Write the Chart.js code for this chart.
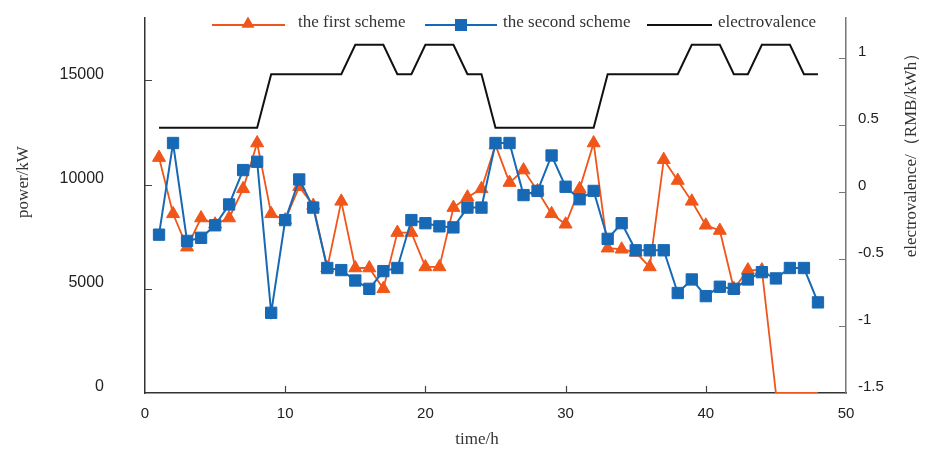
<!DOCTYPE html>
<html><head><meta charset="utf-8">
<script src="https://cdn.jsdelivr.net/npm/chart.js@4.4.0/dist/chart.umd.min.js"></script>
<style>html,body{margin:0;padding:0;background:#fff}canvas{display:block}</style>
</head><body>
<canvas id="c" width="937" height="450"></canvas>
<script>
const hours = [1,2,3,4,5,6,7,8,9,10,11,12,13,14,15,16,17,18,19,20,21,22,23,24,
               25,26,27,28,29,30,31,32,33,34,35,36,37,38,39,40,41,42,43,44,45,46,47,48];
const firstScheme = [11300,8600,7000,8400,8100,8400,9800,12000,8600,8300,9900,9000,
                     6000,9200,6000,6000,5000,7700,7700,6050,6050,8900,9400,9800,
                     11900,10100,10700,9700,8600,8100,9800,12000,6950,6900,6750,6050,
                     11200,10200,9200,8050,7800,5000,5900,5900,0,0,0,0];
const secondScheme = [7600,12000,7300,7450,8050,9050,10700,11100,3850,8300,10250,8900,
                      6000,5900,5400,5000,5850,6000,8300,8150,8000,7950,8900,8900,
                      12000,12000,9500,9700,11400,9900,9300,9700,7400,8150,6850,6850,
                      6850,4800,5450,4650,5100,5000,5450,5800,5500,6000,6000,4350];
const electrovalence = [0.48,0.48,0.48,0.48,0.48,0.48,0.48,0.48,
                        0.88,0.88,0.88,0.88,0.88,0.88,
                        1.1,1.1,1.1,0.88,0.88,1.1,1.1,1.1,0.88,0.88,
                        0.48,0.48,0.48,0.48,0.48,0.48,0.48,0.48,
                        0.88,0.88,0.88,0.88,0.88,0.88,
                        1.1,1.1,1.1,0.88,0.88,1.1,1.1,1.1,0.88,0.88];
const timeTicks = [0,10,20,30,40,50];
const powerTicks = [0,5000,10000,15000];
const priceTicks = [-1.5,-1,-0.5,0,0.5,1];
const seriesNames = ['the first scheme','the second scheme','electrovalence'];

const ORANGE = '#f0561a', BLUE = '#1769b5', BLACK = '#111111';
const SERIF = '"Liberation Serif","Times New Roman",serif';
const SANS = '"Liberation Sans",Arial,sans-serif';
const toXY = arr => hours.map((h, i) => ({x: h, y: arr[i]}));
const fixTicks = list => scale => { scale.ticks = list.map(v => ({value: v})); };
const fitTo = (w, h) => scale => {
  if (w !== null) scale.width = w;
  if (h !== null) scale.height = h;
  scale.paddingTop = 0; scale.paddingBottom = 0;
  scale.paddingLeft = 0; scale.paddingRight = 0;
};

function tri(ctx, x, y, r) {
  ctx.beginPath();
  ctx.moveTo(x, y - r);
  ctx.lineTo(x + 0.866 * r, y + 0.5 * r);
  ctx.lineTo(x - 0.866 * r, y + 0.5 * r);
  ctx.closePath(); ctx.fill();
}
function sq(ctx, x, y, r) {
  const s = Math.SQRT1_2 * r;
  ctx.fillRect(x - s, y - s, 2 * s, 2 * s);
}

const decor = {
  id: 'decor',
  afterDraw(chart) {
    const ctx = chart.ctx;
    const {x, y, y2} = chart.scales;
    ctx.save();
    ctx.lineWidth = 1.2;
    ctx.strokeStyle = '#444';
    ctx.beginPath();
    y.ticks.forEach(t => {
      if (t.value === 0) return;
      const p = Math.round(y.getPixelForValue(t.value)) + 0.5;
      ctx.moveTo(y.right, p); ctx.lineTo(y.right + 7, p);
    });
    x.ticks.forEach(t => {
      if (t.value === 0 || t.value === 50) return;
      const p = Math.round(x.getPixelForValue(t.value)) + 0.5;
      ctx.moveTo(p, x.top); ctx.lineTo(p, x.top - 7);
    });
    ctx.stroke();
    ctx.strokeStyle = '#777';
    ctx.beginPath();
    y2.ticks.forEach(t => {
      if (t.value === -1.5) return;
      const p = Math.round(y2.getPixelForValue(t.value)) + 0.5;
      ctx.moveTo(y2.left - 7, p); ctx.lineTo(y2.left, p);
    });
    ctx.stroke();

    const ly = 25;
    ctx.lineWidth = 1.8;
    ctx.strokeStyle = ORANGE; ctx.fillStyle = ORANGE;
    ctx.beginPath(); ctx.moveTo(212, ly); ctx.lineTo(285, ly); ctx.stroke();
    tri(ctx, 248, ly - 1, 7.5);
    ctx.strokeStyle = BLUE; ctx.fillStyle = BLUE;
    ctx.beginPath(); ctx.moveTo(425, ly); ctx.lineTo(497, ly); ctx.stroke();
    sq(ctx, 461, ly, 8.5);
    ctx.strokeStyle = BLACK; ctx.lineWidth = 2;
    ctx.beginPath(); ctx.moveTo(647, ly); ctx.lineTo(712, ly); ctx.stroke();
    ctx.fillStyle = '#333';
    ctx.font = '17px ' + SERIF;
    ctx.textBaseline = 'middle'; ctx.textAlign = 'left';
    ctx.fillText(seriesNames[0], 298, 23);
    ctx.fillText(seriesNames[1], 503, 23);
    ctx.fillText(seriesNames[2], 718, 23);

    ctx.textAlign = 'center';
    ctx.fillText('time/h', 477, 440);
    ctx.save(); ctx.translate(24, 182); ctx.rotate(-Math.PI / 2);
    ctx.fillText('power/kW', 0, 0); ctx.restore();
    ctx.save(); ctx.translate(912, 151); ctx.rotate(-Math.PI / 2);
    ctx.fillText('electrovalence/（RMB/kWh）', 0, 0); ctx.restore();
    ctx.restore();
  }
};

new Chart(document.getElementById('c').getContext('2d'), {
  type: 'line',
  data: {
    datasets: [
      {label: seriesNames[0], data: toXY(firstScheme), yAxisID: 'y', order: 2,
       borderColor: ORANGE, backgroundColor: ORANGE, borderWidth: 1.8,
       pointStyle: 'triangle', pointBackgroundColor: ORANGE, pointBorderColor: ORANGE,
       pointBorderWidth: 1, pointRadius: c => (c.raw && c.raw.y === 0) ? 0 : 7.5, tension: 0},
      {label: seriesNames[1], data: toXY(secondScheme), yAxisID: 'y', order: 1,
       borderColor: BLUE, backgroundColor: BLUE, borderWidth: 2,
       pointStyle: 'rect', pointBackgroundColor: BLUE, pointBorderColor: BLUE,
       pointBorderWidth: 1, pointRadius: 8, tension: 0},
      {label: seriesNames[2], data: toXY(electrovalence), yAxisID: 'y2', order: 3,
       borderColor: BLACK, borderWidth: 2, pointRadius: 0, tension: 0}
    ]
  },
  options: {
    responsive: false, animation: false,
    layout: {padding: {top: 18, left: 0, right: 0, bottom: 0}},
    plugins: {legend: {display: false}, tooltip: {enabled: false}},
    scales: {
      x: {type: 'linear', min: 0, max: 50, afterBuildTicks: fixTicks(timeTicks),
          afterFit: fitTo(null, 57),
          grid: {display: true, drawOnChartArea: false, drawTicks: false},
          border: {display: true, color: '#333', width: 1.5},
          ticks: {padding: 12, color: '#222', font: {family: SANS, size: 15}, callback: v => String(v)}},
      y: {type: 'linear', position: 'left', min: 0, max: 18000, afterBuildTicks: fixTicks(powerTicks),
          afterFit: fitTo(145, null),
          grid: {display: true, drawOnChartArea: false, drawTicks: false},
          border: {display: true, color: '#333', width: 1.5},
          ticks: {padding: 41, labelOffset: -6, color: '#222', font: {family: SANS, size: 16}, callback: v => String(v)}},
      y2: {type: 'linear', position: 'right', min: -1.5, max: 1.3, afterBuildTicks: fixTicks(priceTicks),
          afterFit: fitTo(91, null),
          grid: {display: true, drawOnChartArea: false, drawTicks: false},
          border: {display: true, color: '#777', width: 1.5},
          ticks: {padding: 12, labelOffset: -6, color: '#222', font: {family: SANS, size: 15}, callback: v => String(v)}}
    }
  },
  plugins: [decor]
});
</script>
</body></html>
